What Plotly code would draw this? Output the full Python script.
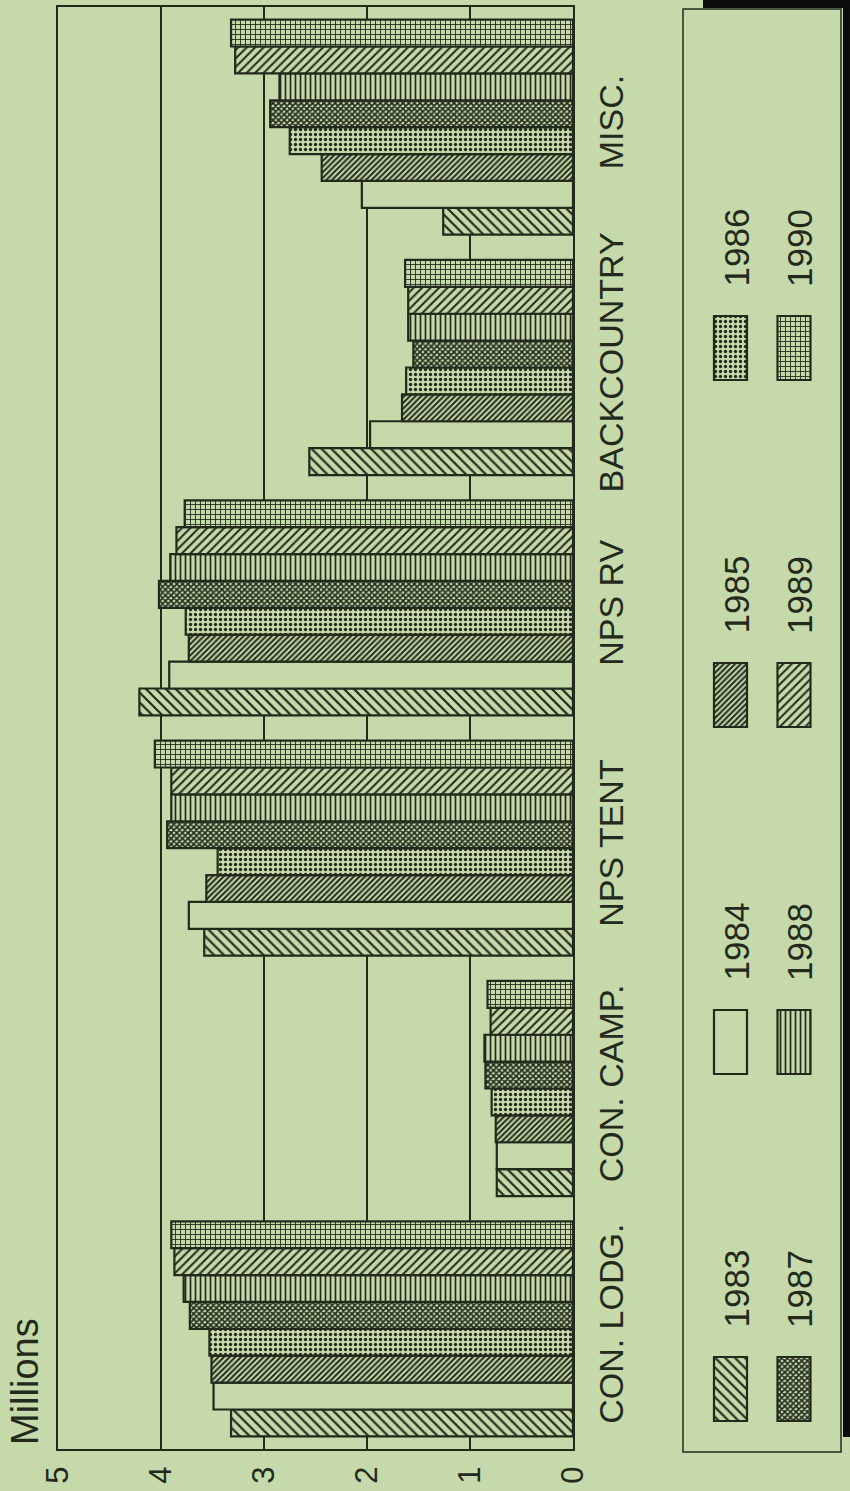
import plotly.graph_objects as go

# ---------------- data ----------------
categories = ["CON. LODG.", "CON. CAMP.", "NPS TENT", "NPS RV", "BACKCOUNTRY", "MISC."]
years = ["1983", "1984", "1985", "1986", "1987", "1988", "1989", "1990"]
v1983 = [3.32, 0.74, 3.58, 4.21, 2.56, 1.26]
v1984 = [3.49, 0.74, 3.73, 3.92, 1.97, 2.05]
v1985 = [3.51, 0.75, 3.56, 3.73, 1.66, 2.44]
v1986 = [3.53, 0.79, 3.45, 3.76, 1.62, 2.75]
v1987 = [3.72, 0.85, 3.94, 4.02, 1.55, 2.94]
v1988 = [3.78, 0.86, 3.90, 3.91, 1.60, 2.85]
v1989 = [3.87, 0.80, 3.90, 3.85, 1.60, 3.28]
v1990 = [3.90, 0.83, 4.06, 3.77, 1.63, 3.32]
series = [v1983, v1984, v1985, v1986, v1987, v1988, v1989, v1990]
value_ticks = [0, 1, 2, 3, 4, 5]
axis_title = "Millions"

# ---------------- style ----------------
W, H = 850, 1491
BG = "#c5d9aa"
DARK = "#232a1c"
FONT = "Liberation Sans, Arial, sans-serif"

patterns = [
    dict(shape="\\", size=7, solidity=0.32),
    dict(shape="", size=6, solidity=0.2),
    dict(shape="/", size=4, solidity=0.5),
    dict(shape=".", size=5, solidity=0.34),
    dict(shape="x", size=4, solidity=0.65),
    dict(shape="|", size=5, solidity=0.34),
    dict(shape="/", size=6, solidity=0.34),
    dict(shape="+", size=5, solidity=0.32),
]


def px(x):
    return x / W


def py(y):
    return 1 - y / H


def marker_for(i):
    p = patterns[i]
    pat = dict(fgcolor=DARK, bgcolor=BG, size=p["size"], solidity=p["solidity"],
               fillmode="replace")
    if p["shape"]:
        pat["shape"] = p["shape"]
    return dict(color=BG, line=dict(color=DARK, width=2.2), pattern=pat)


fig = go.Figure()

for i, (yr, vals) in enumerate(zip(years, series)):
    fig.add_trace(go.Bar(
        y=categories, x=vals, name=yr, orientation="h",
        marker=marker_for(i), showlegend=False,
        xaxis="x", yaxis="y",
    ))

# legend swatches drawn on an auxiliary pair of axes (pixel-like coordinates)
col_swatch_x = [730.5, 794]
col_text_x = [735.5, 799]
row_step = 347
sw_w = 33
for i, yr in enumerate(years):
    col, row = i // 4, i % 4
    top = 1357 - row_step * row
    fig.add_trace(go.Bar(
        x=[col_swatch_x[col]], y=[64], base=[top], width=sw_w, offset=-sw_w / 2,
        marker=marker_for(i), showlegend=False,
        xaxis="x2", yaxis="y2", hoverinfo="skip",
    ))
    fig.add_annotation(
        x=px(col_text_x[col]), y=py(1289 - row_step * row), xref="paper", yref="paper",
        text=yr, textangle=-90, showarrow=False,
        font=dict(family=FONT, size=35, color=DARK),
        xanchor="center", yanchor="middle",
    )

fig.add_annotation(
    x=px(25), y=py(1382), xref="paper", yref="paper", text=axis_title,
    textangle=-90, showarrow=False, font=dict(family=FONT, size=38, color=DARK),
    xanchor="center", yanchor="middle",
)

fig.update_layout(
    width=W, height=H,
    margin=dict(l=0, r=0, t=0, b=0, autoexpand=False),
    paper_bgcolor=BG, plot_bgcolor=BG,
    barmode="group", bargap=0.105, bargroupgap=0,
    xaxis=dict(
        domain=[px(58), px(573)], range=[5, 0], tickvals=value_ticks,
        tickangle=-90, showgrid=True, gridcolor=DARK, gridwidth=1.5,
        showline=True, linecolor=DARK, linewidth=2, mirror=True,
        zeroline=False, ticks="", ticklabelstandoff=3, automargin=False,
        tickfont=dict(family=FONT, size=31, color=DARK),
    ),
    yaxis=dict(
        domain=[py(1449), py(7)], type="category",
        categoryorder="array", categoryarray=categories,
        side="right", tickangle=-90, showgrid=False,
        showline=True, linecolor=DARK, linewidth=2, mirror=True,
        ticks="", ticklabelstandoff=7, automargin=False,
        tickfont=dict(family=FONT, size=34, color=DARK),
    ),
    xaxis2=dict(domain=[px(683), px(841)], range=[683, 841], anchor="y2",
                visible=False, fixedrange=True, automargin=False),
    yaxis2=dict(domain=[py(1452), py(9)], range=[1452, 9], anchor="x2",
                visible=False, fixedrange=True, automargin=False),
    showlegend=False,
)

# legend frame
fig.add_shape(type="rect", xref="paper", yref="paper",
              x0=px(683), x1=px(841), y0=py(1452), y1=py(9),
              line=dict(color=DARK, width=1.5), fillcolor="rgba(0,0,0,0)")
# black border strips at the right/top edge of the photo
fig.add_shape(type="rect", xref="paper", yref="paper",
              x0=px(843), x1=1, y0=py(1437), y1=1,
              line=dict(width=0), fillcolor="#0c0c0c")
fig.add_shape(type="rect", xref="paper", yref="paper",
              x0=px(703), x1=1, y0=py(8), y1=1,
              line=dict(width=0), fillcolor="#0c0c0c")

fig.write_html("out.html", config={"displayModeBar": False},
               post_script="document.body.style.margin='0';")
